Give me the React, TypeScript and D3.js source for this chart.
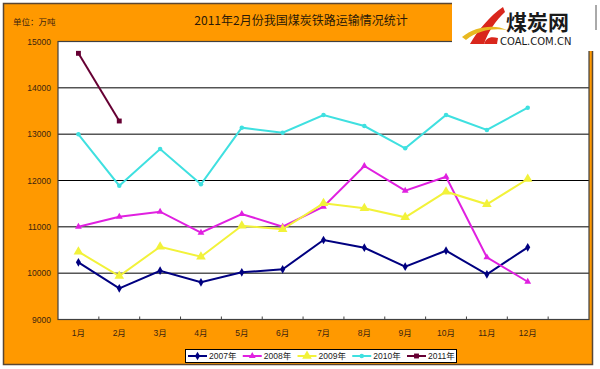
import { useEffect, useRef } from 'react';
import * as d3 from 'd3';

const months = ['1月', '2月', '3月', '4月', '5月', '6月', '7月', '8月', '9月', '10月', '11月', '12月'];
const yTicks = [9000, 10000, 11000, 12000, 13000, 14000, 15000];

const v2007 = [10234, 9673, 10053, 9803, 10018, 10083, 10716, 10549, 10140, 10485, 9975, 10558];
const v2008 = [11003, 11218, 11326, 10873, 11277, 11003, 11435, 12313, 11780, 12082, 10342, 9815];
const v2009 = [10463, 9939, 10571, 10355, 11024, 10946, 11508, 11400, 11205, 11758, 11486, 12032];
const v2010 = [12997, 11888, 12680, 11918, 13140, 13032, 13414, 13176, 12695, 13414, 13090, 13571];
const v2011 = [14745, 13284];

const seriesNames = ['2007年', '2008年', '2009年', '2010年', '2011年'];
const seriesValues = [v2007, v2008, v2009, v2010, v2011];
const seriesColors = ['#000080', '#e020e0', '#f2f23a', '#3fe0e0', '#660033'];
const seriesMarkers = ['diamond', 'triangle', 'bigTriangle', 'circle', 'square'];

const title = '2011年2月份我国煤炭铁路运输情况统计';
const unitLabel = '单位：万吨';

const cjk = '"Noto Sans CJK SC", sans-serif';
const num = '"Liberation Sans", "Noto Sans CJK SC", sans-serif';
const textColor = '#3b2410';

const markerPath = (kind: string) => {
    if (kind === 'diamond') return d3.symbol(d3.symbolDiamond, 22)();
    if (kind === 'triangle') return d3.symbol(d3.symbolTriangle, 20)();
    if (kind === 'bigTriangle') return d3.symbol(d3.symbolTriangle, 40)();
    if (kind === 'circle') return d3.symbol(d3.symbolCircle, 16)();
    return d3.symbol(d3.symbolSquare, 24)();
};

const CoalChart = () => {
    const svgRef = useRef<SVGSVGElement>(null);

    useEffect(() => {
        const root = d3.select(svgRef.current);
        root.selectAll('*').remove();

        // Frame
        root.append('rect')
            .attr('x', 3.5).attr('y', 3.5)
            .attr('width', 589).attr('height', 361)
            .attr('fill', '#ff9900')
            .attr('stroke', '#5a4632')
            .attr('stroke-width', 1.5);

        // Plot area
        const left = 58, top = 41.5, right = 589, bottom = 319.5;
        const plotW = right - left;

        const x = d3.scaleBand<string>()
            .domain(months)
            .range([left, left + plotW * 12 / 13]);
        const step = x.step();

        const y = d3.scaleLinear()
            .domain([9000, 15000])
            .range([bottom, top]);

        root.append('rect')
            .attr('x', left).attr('y', top)
            .attr('width', plotW).attr('height', bottom - top)
            .attr('fill', '#ffffff');

        // Grid lines
        root.append('g')
            .selectAll('line')
            .data(yTicks.slice(1, -1))
            .join('line')
            .attr('x1', left).attr('x2', right)
            .attr('y1', d => y(d)).attr('y2', d => y(d))
            .attr('stroke', '#000')
            .attr('stroke-width', 1);

        // Border
        root.append('rect')
            .attr('x', left).attr('y', top)
            .attr('width', plotW).attr('height', bottom - top)
            .attr('fill', 'none')
            .attr('stroke', '#404040')
            .attr('stroke-width', 1.2);

        // X ticks (inside, at category boundaries)
        root.append('g')
            .selectAll('line')
            .data(d3.range(1, 13))
            .join('line')
            .attr('x1', i => left + i * step).attr('x2', i => left + i * step)
            .attr('y1', bottom).attr('y2', bottom - 3)
            .attr('stroke', '#404040');

        // Y labels
        root.append('g')
            .selectAll('text')
            .data(yTicks)
            .join('text')
            .attr('x', 51)
            .attr('y', d => y(d) + 3)
            .attr('text-anchor', 'end')
            .attr('font-family', num)
            .attr('font-size', 8.5)
            .attr('fill', textColor)
            .text(d => d);

        // X labels
        root.append('g')
            .selectAll('text')
            .data(months)
            .join('text')
            .attr('x', d => (x(d) as number) + step / 2)
            .attr('y', 336)
            .attr('text-anchor', 'middle')
            .attr('font-family', num)
            .attr('font-size', 8.5)
            .attr('fill', textColor)
            .text(d => d);

        // Title and unit
        root.append('text')
            .attr('x', 301).attr('y', 25)
            .attr('text-anchor', 'middle')
            .attr('font-family', cjk)
            .attr('font-size', 12)
            .attr('fill', '#2a1a08')
            .text(title);

        root.append('text')
            .attr('x', 13).attr('y', 25)
            .attr('font-family', cjk)
            .attr('font-size', 8.5)
            .attr('fill', textColor)
            .text(unitLabel);

        // Series
        const line = d3.line<number>()
            .x((_, i) => (x(months[i]) as number) + step / 2)
            .y(d => y(d));

        seriesValues.forEach((vals, si) => {
            const g = root.append('g');
            g.append('path')
                .datum(vals)
                .attr('fill', 'none')
                .attr('stroke', seriesColors[si])
                .attr('stroke-width', 2)
                .attr('d', line);
            g.selectAll('path.m')
                .data(vals)
                .join('path')
                .attr('class', 'm')
                .attr('transform', (d, i) => `translate(${(x(months[i]) as number) + step / 2},${y(d)})`)
                .attr('d', markerPath(seriesMarkers[si]))
                .attr('fill', seriesColors[si]);
        });

        // Legend
        const lg = root.append('g');
        lg.append('rect')
            .attr('x', 185.5).attr('y', 349.5)
            .attr('width', 271).attr('height', 13)
            .attr('fill', '#ffffff')
            .attr('stroke', '#000')
            .attr('stroke-width', 1);
        seriesNames.forEach((name, si) => {
            const lx = 188 + si * 54.75;
            const item = lg.append('g').attr('transform', `translate(${lx},356)`);
            item.append('line')
                .attr('x1', 0).attr('x2', 19)
                .attr('stroke', seriesColors[si])
                .attr('stroke-width', 2);
            item.append('path')
                .attr('transform', 'translate(9.5,0)')
                .attr('d', markerPath(seriesMarkers[si]))
                .attr('fill', seriesColors[si]);
            item.append('text')
                .attr('x', 21).attr('y', 3)
                .attr('font-family', num)
                .attr('font-size', 8.5)
                .attr('fill', '#222')
                .text(name);
        });

        // Logo
        const logo = root.append('g');
        logo.append('rect')
            .attr('x', 452).attr('y', 0)
            .attr('width', 148).attr('height', 51)
            .attr('fill', '#ffffff');
        logo.append('path')
            .attr('d', 'M470,44 C478,30 490,16 503,7 L505,12 C496,20 488,32 484,44 Z')
            .attr('fill', '#d9261c');
        logo.append('path')
            .attr('d', 'M462,37 C475,26 495,24 507,30 C494,28 478,30 466,40 Z')
            .attr('fill', '#e8b820');
        logo.append('path')
            .attr('d', 'M484,44 C486,38 490,36 498,38 L497,44 Z')
            .attr('fill', '#d9261c');
        logo.append('text')
            .attr('x', 506).attr('y', 30)
            .attr('font-family', cjk)
            .attr('font-weight', 'bold')
            .attr('font-size', 21)
            .attr('fill', '#1a1a1a')
            .text('煤炭网');
        logo.append('text')
            .attr('x', 500).attr('y', 45)
            .attr('font-family', '"DejaVu Sans", sans-serif')
            .attr('font-size', 10)
            .attr('fill', '#1a1a1a')
            .text('COAL.COM.CN');
        logo.append('line')
            .attr('x1', 596).attr('x2', 596)
            .attr('y1', 5).attr('y2', 30)
            .attr('stroke', '#555');
    }, []);

    return <svg ref={svgRef} width={600} height={369} style={{ position: 'absolute', left: 0, top: 0 }}></svg>;
};

export default function App() {
    return <CoalChart />;
}
